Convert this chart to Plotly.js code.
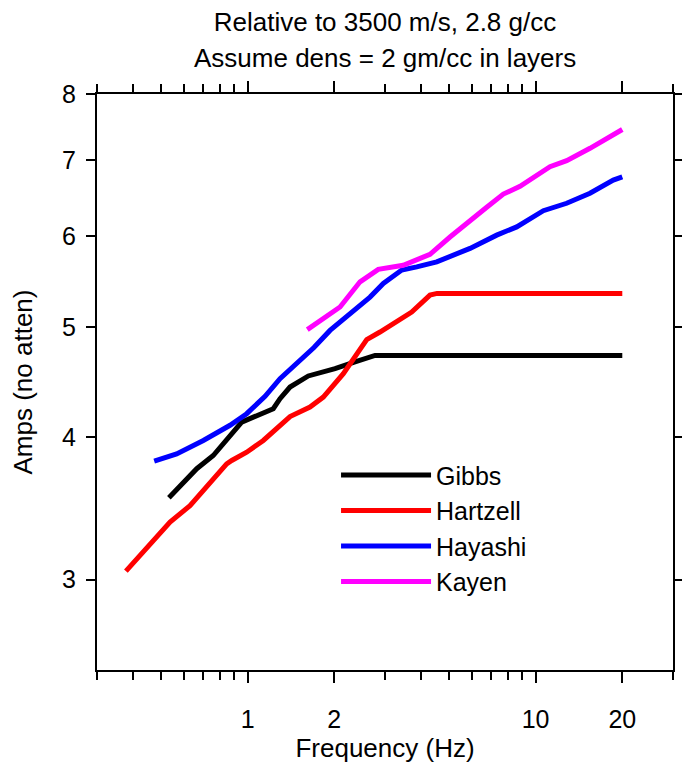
<!DOCTYPE html>
<html>
<head>
<meta charset="utf-8">
<script src="https://cdn.plot.ly/plotly-3.0.1.min.js"></script>
<style>html,body{margin:0;padding:0;background:#fff;}#chart{width:682px;height:764px;}</style>
</head>
<body>
<div id="chart"></div>
<script>
// ---- data ----
const seriesNames = ["Gibbs", "Hartzell", "Hayashi", "Kayen"];
const seriesColors = ["#000000", "#ff0000", "#0000ff", "#ff00ff"];

const gibbsFreq = [0.533, 0.666, 0.760, 0.846, 0.954, 1.047, 1.228, 1.296, 1.404, 1.625, 2.012, 2.360, 2.770, 20];
const gibbsAmp  = [3.540, 3.754, 3.855, 3.974, 4.124, 4.166, 4.237, 4.324, 4.427, 4.527, 4.594, 4.657, 4.719, 4.719];

const hartzellFreq = [0.378, 0.470, 0.538, 0.631, 0.721, 0.846, 0.881, 0.993, 1.134, 1.404, 1.647, 1.832, 2.150, 2.393, 2.592, 2.882, 3.294, 3.714, 4.299, 4.548, 20];
const hartzellAmp  = [3.052, 3.247, 3.370, 3.484, 3.616, 3.791, 3.817, 3.881, 3.974, 4.171, 4.251, 4.338, 4.548, 4.736, 4.872, 4.947, 5.048, 5.151, 5.330, 5.348, 5.348];

const hayashiFreq = [0.474, 0.567, 0.702, 0.869, 0.993, 1.150, 1.296, 1.481, 1.700, 1.933, 2.267, 2.661, 2.960, 3.429, 3.867, 4.537, 5.920, 7.327, 8.599, 10.64, 12.82, 15.45, 18.61, 20];
const hayashiAmp  = [3.811, 3.868, 3.974, 4.098, 4.195, 4.345, 4.502, 4.640, 4.795, 4.963, 5.134, 5.309, 5.457, 5.606, 5.642, 5.700, 5.857, 6.016, 6.117, 6.320, 6.416, 6.547, 6.723, 6.768];

const kayenFreq = [1.612, 1.882, 2.094, 2.457, 2.843, 3.471, 4.024, 4.299, 5.045, 6.000, 6.766, 7.727, 8.830, 11.22, 12.82, 15.45, 17.88, 20];
const kayenAmp  = [4.971, 5.099, 5.204, 5.475, 5.614, 5.661, 5.739, 5.788, 5.993, 6.221, 6.364, 6.536, 6.640, 6.907, 6.992, 7.169, 7.325, 7.447];

const xMajorTicks = [1, 2, 10, 20];
const xMajorText  = ["1", "2", "10", "20"];
const xMinorTicks = [0.3, 0.4, 0.5, 0.6, 0.7, 0.8, 0.9, 3, 4, 5, 6, 7, 8, 9, 30];
const yTicks = [3, 4, 5, 6, 7, 8];
const yText  = ["3", "4", "5", "6", "7", "8"];

const titleLine1 = "Relative to 3500 m/s, 2.8 g/cc";
const titleLine2 = "Assume dens = 2 gm/cc in layers";
const xTitle = "Frequency (Hz)";
const yTitle = "Amps (no atten)";

// ---- chart ----
const FONT = "Liberation Sans, Arial, Helvetica, sans-serif";
const FS = 25;
const FT = 26;
const xs = [gibbsFreq, hartzellFreq, hayashiFreq, kayenFreq];
const ys = [gibbsAmp, hartzellAmp, hayashiAmp, kayenAmp];
const traces = seriesNames.map((n, i) => ({
  x: xs[i], y: ys[i], name: n, type: "scatter", mode: "lines",
  line: {color: seriesColors[i], width: 5}
}));

const layout = {
  width: 682, height: 764,
  margin: {l: 97, r: 9, t: 94, b: 94, pad: 0},
  paper_bgcolor: "#ffffff", plot_bgcolor: "#ffffff",
  font: {family: FONT, size: FS, color: "#000"},
  showlegend: true,
  legend: {
    x: 0.415, y: 0.378, xanchor: "left", yanchor: "top",
    font: {family: FONT, size: FS, color: "#000"},
    bgcolor: "rgba(0,0,0,0)", borderwidth: 0,
    itemwidth: 90
  },
  title: {
    text: titleLine1, font: {family: FONT, size: FT, color: "#000"},
    xref: "paper", x: 0.5, xanchor: "center",
    yref: "container", y: 1 - 22 / 764, yanchor: "middle"
  },
  annotations: [{
    text: titleLine2, showarrow: false,
    xref: "paper", x: 0.5, xanchor: "center",
    yref: "paper", y: 1 + 36 / 576, yanchor: "middle",
    font: {family: FONT, size: FT, color: "#000"}
  }],
  xaxis: {
    type: "log", range: [Math.log10(0.3), Math.log10(30)],
    showgrid: false, zeroline: false,
    showline: true, linecolor: "#000", linewidth: 2, mirror: "ticks",
    ticks: "outside", ticklen: 11, tickwidth: 2, tickcolor: "#000",
    tickmode: "array", tickvals: xMajorTicks, ticktext: xMajorText,
    ticklabelstandoff: 15,
    tickfont: {family: FONT, size: FS, color: "#000"},
    minor: {ticks: "outside", ticklen: 8, tickwidth: 2, tickcolor: "#000", tickmode: "array", tickvals: xMinorTicks, showgrid: false},
    title: {text: xTitle, font: {family: FONT, size: FT, color: "#000"}, standoff: 3},
    automargin: false
  },
  yaxis: {
    type: "log", range: [Math.log10(2.5), Math.log10(8)],
    showgrid: false, zeroline: false,
    showline: true, linecolor: "#000", linewidth: 2, mirror: "ticks",
    ticks: "outside", ticklen: 9, tickwidth: 2, tickcolor: "#000",
    tickmode: "array", tickvals: yTicks, ticktext: yText,
    ticklabelstandoff: 5,
    tickfont: {family: FONT, size: FS, color: "#000"},
    title: {text: yTitle, font: {family: FONT, size: FT, color: "#000"}, standoff: 22},
    automargin: false
  }
};

Plotly.newPlot("chart", traces, layout, {displayModeBar: false, staticPlot: true});
</script>
</body>
</html>
